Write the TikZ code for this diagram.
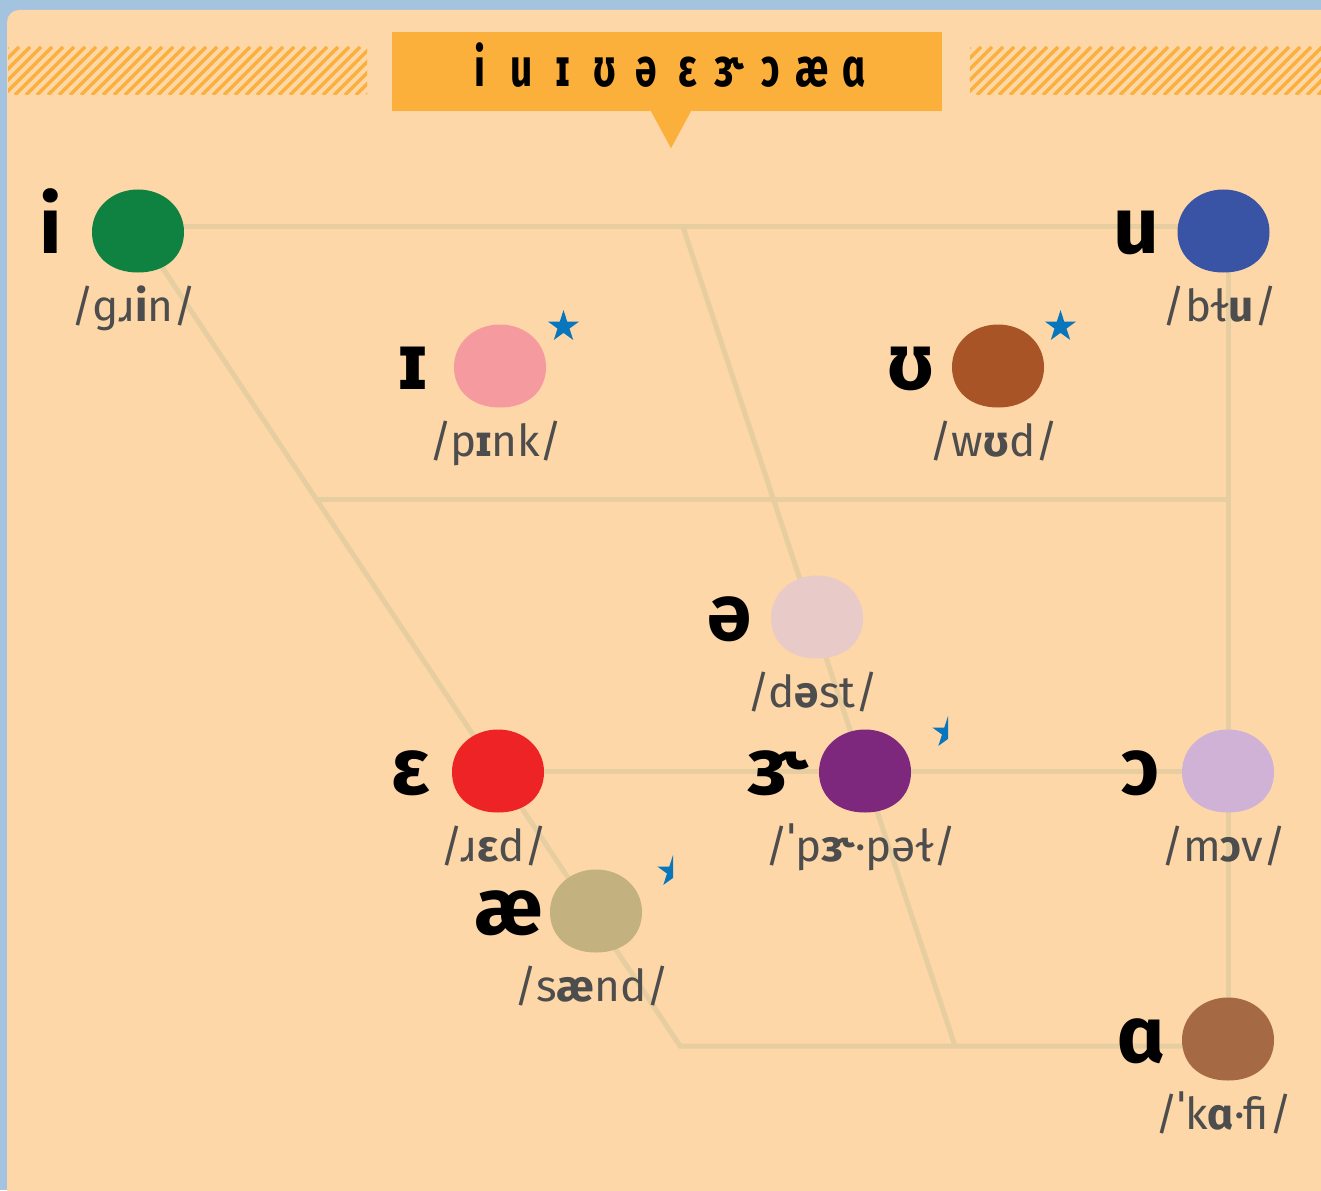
\documentclass[tikz,border=0pt]{standalone}
\usepackage{fontspec}
\setmainfont{Fira Sans}
\usetikzlibrary{shapes.geometric}
\definecolor{frame_blue}{RGB}{164, 195, 222}
\definecolor{panel}{RGB}{253, 215, 168}
\definecolor{banner}{RGB}{251, 176, 59}
\definecolor{chart_line}{RGB}{231, 206, 160}
\definecolor{word_gray}{RGB}{77, 77, 77}
\definecolor{star_blue}{RGB}{8, 118, 188}
\definecolor{v_i}{RGB}{15, 129, 64}
\definecolor{v_u}{RGB}{57, 84, 164}
\definecolor{v_I}{RGB}{245, 155, 160}
\definecolor{v_U}{RGB}{168, 84, 38}
\definecolor{v_schwa}{RGB}{232, 202, 200}
\definecolor{v_eps}{RGB}{238, 35, 37}
\definecolor{v_er}{RGB}{125, 39, 125}
\definecolor{v_open}{RGB}{208, 178, 214}
\definecolor{v_ae}{RGB}{195, 178, 127}
\definecolor{v_alpha}{RGB}{165, 106, 68}
\pgfdeclarelayer{back}
\pgfdeclarelayer{chart}
\pgfsetlayers{back,chart,main}
\tikzset{
  blob/.style={minimum width=92pt, minimum height=83pt, inner sep=0pt,
    path picture={\fill[#1, shift={(path picture bounding box.center)}]
      (-46pt,-1pt) .. controls (-46pt,23.5pt) and (-25.4pt,41.5pt) .. (0pt,41.5pt)
      .. controls (25.4pt,41.5pt) and (46pt,23.5pt) .. (46pt,-1pt)
      .. controls (46pt,-25pt) and (28pt,-41.5pt) .. (0pt,-41.5pt)
      .. controls (-28pt,-41.5pt) and (-46pt,-25pt) .. cycle;}},
  sym/.style={anchor=base, font=\fontsize{80}{80}\selectfont\bfseries},
  word/.style={anchor=base, text=word_gray, font=\fontsize{44}{44}\selectfont},
  starmark/.style={star, star points=5, star point ratio=2.618, fill=star_blue,
    minimum size=33pt, inner sep=0pt},
  chartline/.style={chart_line, line width=5pt},
  hatch/.style={banner, line width=3.3pt}
}

\begin{document}
\begin{tikzpicture}[x=1pt, y=-1pt]
\useasboundingbox (0,0) rectangle (1321,1190);

\begin{pgfonlayer}{back}
\fill[frame_blue] (0,0) rectangle (1321,1190);
\fill[panel, rounded corners=12pt] (7,10) rectangle (1360,1230);
\foreach \xa/\xb in {8/367, 970/1321} {
  \begin{scope}
    \clip (\xa,47) rectangle (\xb,95);
    \foreach \k in {0,...,37}
      \draw[hatch] (\xa-48+11*\k,95) -- ++(48,-48);
  \end{scope}
}
\end{pgfonlayer}

% banner
\node[fill=banner, minimum width=550pt, minimum height=79pt, inner sep=0pt,
  text height=31pt, text depth=0pt,
  font=\fontsize{54}{54}\selectfont\bfseries\addfontfeature{FakeStretch=0.72}]
  (title) at (667,71.5)
  {\foreach \v in {i,u,ɪ,ʊ,ə,ɛ,ɝ,ɔ,æ,ɑ}{\makebox[41.5pt]{\v}}};
\fill[banner] ([xshift=-16pt]title.south) -- ([xshift=24pt]title.south)
  -- ([xshift=4pt,yshift=-37pt]title.south) -- cycle;

% vowels
\foreach \n/\x/\y/\c/\s/\w in {
  i/138/231/v_i/i/ɡɹ\textbf{i}n,
  u/1223.5/231/v_u/u/bɫ\textbf{u},
  I/500/366/v_I/ɪ/p\textbf{ɪ}nk,
  U/998/366/v_U/ʊ/w\textbf{ʊ}d,
  schwa/817/617/v_schwa/ə/d\textbf{ə}st,
  eps/498/771/v_eps/ɛ/ɹ\textbf{ɛ}d,
  er/865/771/v_er/ɝ/ˈp\textbf{ɝ}·pəɫ,
  open/1228/771/v_open/ɔ/m\textbf{ɔ}v,
  ae/596/911/v_ae/æ/s\textbf{æ}nd,
  alpha/1228/1039/v_alpha/ɑ/ˈk\textbf{ɑ}·fi}
{
  \node[blob=\c] (\n) at (\x,\y) {};
  \node[sym] (\n-sym) at ([shift={(-87,23)}]\n.center) {\s};
  \node[word] (\n-word) at ([shift={(-4,90)}]\n.center) {/\w/};
}

\begin{pgfonlayer}{chart}
\coordinate (mid-left) at (318,499);
\coordinate (mid-right) at (1228,499);
\coordinate (top-mid) at (683,227);
\coordinate (bottom-mid) at (955,1046);
\coordinate (bottom-left) at (680,1046);
\draw[chartline] ([yshift=4pt]i.center) -- ([yshift=4pt]u.center);
\draw[chartline] (i.center) -- (bottom-left) -- (bottom-left -| alpha.center);
\draw[chartline] ([xshift=4.5pt]u.center) -- (open.center) -- (alpha.center);
\draw[chartline] (mid-left) -- (mid-right);
\draw[chartline] (eps.center) -- (open.center);
\draw[chartline] (top-mid) -- (bottom-mid);
\end{pgfonlayer}

% stars
\node[starmark] (I-star) at (563.5,326.6) {};
\node[starmark] (U-star) at (1060.5,326.6) {};
\begin{scope}
  \clip (900,700) rectangle (948,760);
  \node[starmark] (er-star) at (948,732.6) {};
\end{scope}
\begin{scope}
  \clip (620,840) rectangle (673,900);
  \node[starmark] (ae-star) at (673,871.6) {};
\end{scope}

\end{tikzpicture}
\end{document}
